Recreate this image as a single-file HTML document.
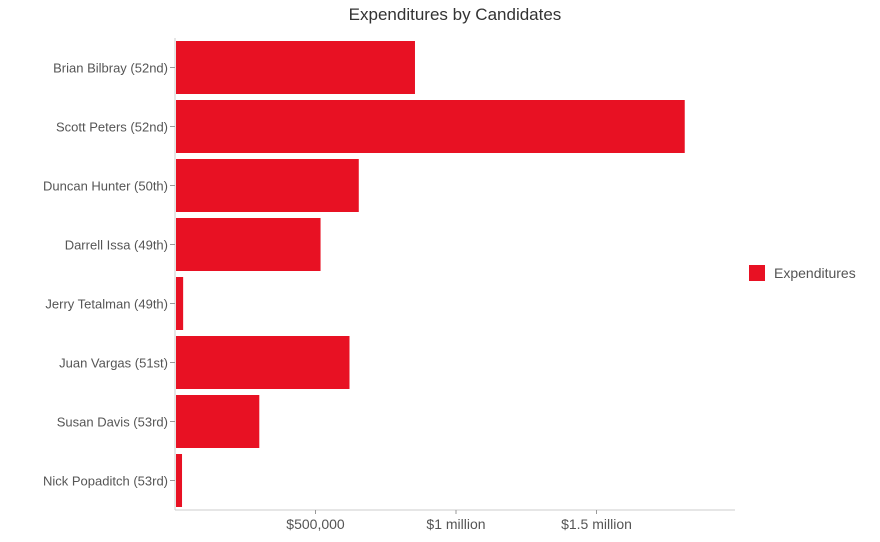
<!DOCTYPE html>
<html><head><meta charset="utf-8"><style>
body{margin:0;background:#fff;font-family:"Liberation Sans",sans-serif}
svg{display:block}
</style></head><body>
<svg width="880" height="542" id="chart">
<text x="455" y="20" text-anchor="middle" font-size="17" fill="#333">Expenditures by Candidates</text>
<g id="bars"></g>
<line x1="175" y1="38" x2="175" y2="510" stroke="#ccc"/>
<line x1="175" y1="510" x2="735" y2="510" stroke="#ccc"/>
<g id="ticks"></g>
<rect x="749" y="265" width="16" height="16" fill="#e81123"/>
<text x="774" y="278" font-size="14" fill="#555">Expenditures</text>
</svg>
<script>
const categories=["Brian Bilbray (52nd)","Scott Peters (52nd)","Duncan Hunter (50th)","Darrell Issa (49th)","Jerry Tetalman (49th)","Juan Vargas (51st)","Susan Davis (53rd)","Nick Popaditch (53rd)"];
const values=[854000,1814000,654000,518000,29000,621000,300000,25000];
const tickValues=[500000,1000000,1500000];
const tickLabels=["$500,000","$1 million","$1.5 million"];
const NS="http://www.w3.org/2000/svg";
const x0=175,x1=737,xMax=2000000,yTop=38,yBot=510;
const xs=v=>x0+v/xMax*(x1-x0);
const band=(yBot-yTop)/categories.length;
const gb=document.getElementById('bars'),gt=document.getElementById('ticks');
categories.forEach((c,i)=>{
  const yc=yTop+band*(i+0.5);
  const r=document.createElementNS(NS,'rect');
  r.setAttribute('x',x0+1);r.setAttribute('y',yc-26.5);
  r.setAttribute('width',Math.max(1,xs(values[i])-x0-1));r.setAttribute('height',53);
  r.setAttribute('fill','#e81123');
  
  
  gb.appendChild(r);
  const t=document.createElementNS(NS,'text');
  t.setAttribute('x',168);t.setAttribute('y',yc+5);t.setAttribute('text-anchor','end');
  t.setAttribute('font-size','13');t.setAttribute('fill','#555');t.textContent=c;
  
  
  gt.appendChild(t);
  const l=document.createElementNS(NS,'line');
  l.setAttribute('x1',170);l.setAttribute('x2',175);l.setAttribute('y1',yc);l.setAttribute('y2',yc);l.setAttribute('stroke','#999');
  
  
  gt.appendChild(l);
});
tickValues.forEach((v,i)=>{
  const x=xs(v);
  const l=document.createElementNS(NS,'line');
  l.setAttribute('x1',x);l.setAttribute('x2',x);l.setAttribute('y1',510);l.setAttribute('y2',514);l.setAttribute('stroke','#999');
  
  
  gt.appendChild(l);
  const t=document.createElementNS(NS,'text');
  t.setAttribute('x',x);t.setAttribute('y',529);t.setAttribute('text-anchor','middle');
  t.setAttribute('font-size','14');t.setAttribute('fill','#555');t.textContent=tickLabels[i];
  
  
  gt.appendChild(t);
});
</script>
</body></html>
